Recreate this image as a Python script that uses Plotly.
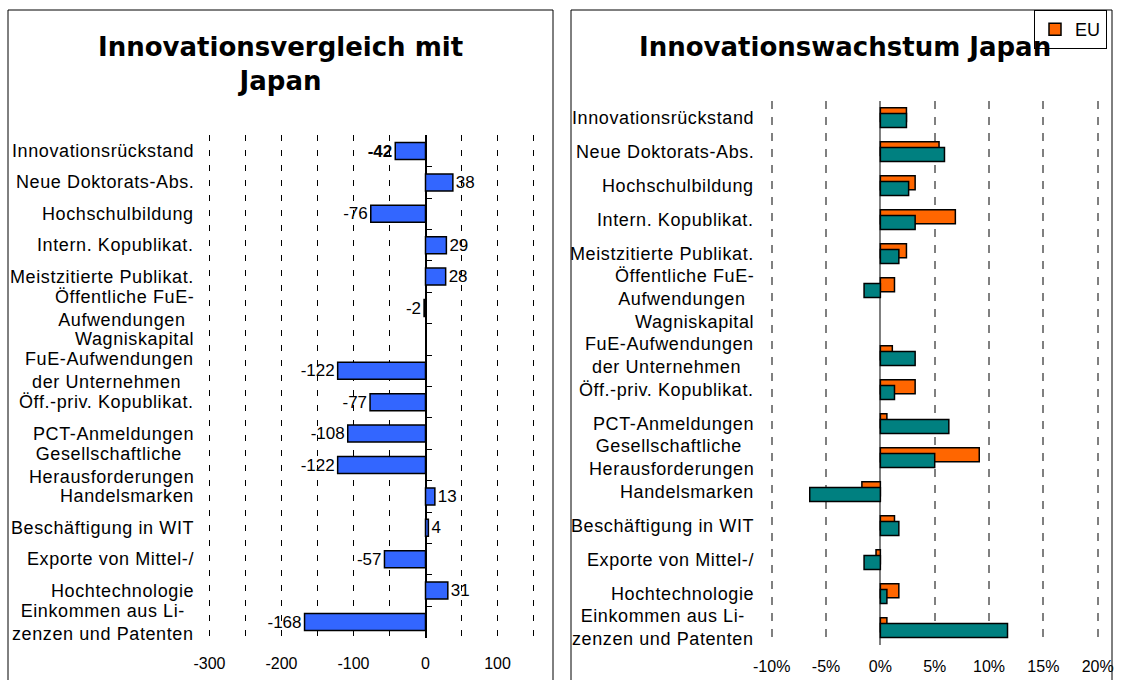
import plotly.graph_objects as go

# ---------------- data ----------------
categories = [
    "Innovationsrückstand", "Neue Doktorats-Abs.", "Hochschulbildung",
    "Intern. Kopublikat.", "Meistzitierte Publikat.", "Öffentliche FuE-Aufwendungen",
    "Wagniskapital", "FuE-Aufwendungen der Unternehmen", "Öff.-priv. Kopublikat.",
    "PCT-Anmeldungen", "Gesellschaftliche Herausforderungen", "Handelsmarken",
    "Beschäftigung in WIT", "Exporte von Mittel-/", "Hochtechnologie",
    "Einkommen aus Lizenzen und Patenten",
]
category_labels = [
    "Innovationsrückstand", "Neue Doktorats-Abs.", "Hochschulbildung",
    "Intern. Kopublikat.", "Meistzitierte Publikat.", "Öffentliche FuE-<br>Aufwendungen ",
    "Wagniskapital", "FuE-Aufwendungen<br>der Unternehmen ", "Öff.-priv. Kopublikat.",
    "PCT-Anmeldungen", "Gesellschaftliche <br>Herausforderungen", "Handelsmarken",
    "Beschäftigung in WIT", "Exporte von Mittel-/", "Hochtechnologie",
    "Einkommen aus Li-<br>zenzen und Patenten",
]
vergleich_japan = [-42, 38, -76, 29, 28, -2, None, -122, -77, -108, -122, 13, 4, -57, 31, -168]
wachstum_eu = [2.4, 5.4, 3.2, 6.9, 2.4, 1.3, None, 1.1, 3.2, 0.6, 9.1, -1.7, 1.3, -0.4, 1.7, 0.6]
wachstum_japan = [2.4, 5.9, 2.6, 3.2, 1.7, -1.5, None, 3.2, 1.3, 6.3, 5.0, -6.5, 1.7, -1.5, 0.6, 11.7]
left_tickvals = [-300, -200, -100, 0, 100]
left_ticktext = ["-300", "-200", "-100", "0", "100"]
right_tickvals = [-10, -5, 0, 5, 10, 15, 20]
right_ticktext = ["-10%", "-5%", "0%", "5%", "10%", "15%", "20%"]
left_title = "Innovationsvergleich mit<br>Japan"
right_title = "Innovationswachstum Japan"

# ---------------- layout geometry (pixels) ----------------
W, H = 1123, 680
FONT = "Liberation Sans, Arial, sans-serif"
TFONT = "DejaVu Sans, Verdana, sans-serif"

def px(x):
    return x / W

def py(y):
    return 1 - y / H

n = len(categories)
rng = [n - 0.5, -0.5]

left_text = []
for i, v in enumerate(vergleich_japan):
    if v is None:
        left_text.append("")
    elif i == 0:
        left_text.append("<b>%d</b>" % v)
    else:
        left_text.append("%d" % v)

fig = go.Figure()

fig.add_trace(go.Bar(
    x=vergleich_japan, y=categories, orientation="h", xaxis="x", yaxis="y",
    width=0.54, marker=dict(color="#3366FF", line=dict(color="black", width=1.5)),
    text=left_text, textposition="outside", cliponaxis=False, constraintext="none",
    textfont=dict(family=FONT, size=17, color="black"),
    showlegend=False, hoverinfo="x+y",
))
fig.add_trace(go.Bar(
    x=wachstum_eu, y=categories, orientation="h", xaxis="x2", yaxis="y2",
    width=0.41, offset=-0.295, name="EU",
    marker=dict(color="#FF6600", line=dict(color="black", width=1.5)),
))
fig.add_trace(go.Bar(
    x=wachstum_japan, y=categories, orientation="h", xaxis="x2", yaxis="y2",
    width=0.41, offset=-0.124, name="Japan", showlegend=False,
    marker=dict(color="#008080", line=dict(color="black", width=1.5)),
))
# invisible helper trace so the tick-axis at zero is drawn
fig.add_trace(go.Scatter(x=[None], y=[None], xaxis="x", yaxis="y3",
                         showlegend=False, hoverinfo="skip"))

# plot areas in pixels (edge gridlines at -300/150 and -10%/20%)
lx0, lx1 = 209.5, 533.5
ly0, ly1 = 135.3, 637.7
rx0, rx1 = 771.7, 1097.7
ry0, ry1 = 100.7, 644.8
PAD = 3  # extra pixels so edge gridlines are not clipped

l_scale = (lx1 - lx0) / 450.0
r_scale = (rx1 - rx0) / 30.0
l_range = [-300 - PAD / l_scale, 150 + PAD / l_scale]
r_range = [-10 - PAD / r_scale, 20 + PAD / r_scale]

zero_pos = px(lx0 + (lx1 - lx0) * (300 / 450))

fig.update_layout(
    width=W, height=H, margin=dict(l=0, r=0, t=0, b=0, autoexpand=False),
    paper_bgcolor="white", plot_bgcolor="white",
    barmode="overlay",
    font=dict(family=FONT, size=16, color="black"),
    xaxis=dict(
        domain=[px(lx0 - PAD), px(lx1 + PAD)], anchor="y", range=l_range,
        tickmode="array", tickvals=left_tickvals, ticktext=left_ticktext,
        ticks="", showline=False,
        showgrid=True, gridcolor="black", gridwidth=1, griddash="6px,9px",
        minor=dict(tickmode="linear", dtick=50, tick0=-300, showgrid=True,
                   gridcolor="black", gridwidth=1, griddash="6px,9px"),
        zeroline=True, zerolinecolor="black", zerolinewidth=1.5,
        tickfont=dict(family=FONT, size=16), ticklabelstandoff=14,
        fixedrange=True,
    ),
    yaxis=dict(
        domain=[py(ly1), py(ly0)], anchor="x", type="category",
        categoryorder="array", categoryarray=categories, range=rng,
        showticklabels=False, showgrid=False, zeroline=False, showline=False,
        ticks="", fixedrange=True,
    ),
    yaxis3=dict(
        overlaying="y", anchor="free", position=zero_pos, range=rng,
        tickmode="array", tickvals=[i - 0.5 for i in range(n + 1)],
        ticks="inside", ticklen=5, tickcolor="black", tickwidth=1,
        showticklabels=False, showgrid=False, zeroline=False, showline=False,
        fixedrange=True,
    ),
    xaxis2=dict(
        domain=[px(rx0 - PAD), px(rx1 + PAD)], anchor="y2", range=r_range,
        tickmode="array", tickvals=right_tickvals, ticktext=right_ticktext,
        ticks="", showline=False,
        showgrid=True, gridcolor="#808080", gridwidth=1.5, griddash="8px,8px",
        zeroline=True, zerolinecolor="#808080", zerolinewidth=2,
        tickfont=dict(family=FONT, size=16), ticklabelstandoff=10,
        fixedrange=True,
    ),
    yaxis2=dict(
        domain=[py(ry1), py(ry0)], anchor="x2", type="category",
        categoryorder="array", categoryarray=categories, range=rng,
        showticklabels=False, showgrid=False, zeroline=False, showline=False,
        ticks="", fixedrange=True,
    ),
    legend=dict(
        x=px(1107), y=py(10), xanchor="right", yanchor="top",
        bgcolor="white", bordercolor="black", borderwidth=1,
        font=dict(family=FONT, size=18), itemwidth=30,
    ),
)

annotations = []
for cat, lab in zip(categories, category_labels):
    txt = "<span style='letter-spacing:0.6px'>%s</span>" % lab.replace(
        "<br>", "</span><br><span style='letter-spacing:0.6px'>")
    annotations.append(dict(
        x=px(196), xref="paper", y=cat, yref="y", text=txt, showarrow=False,
        xanchor="right", yanchor="middle", align="center",
        font=dict(family=FONT, size=18, color="black"),
    ))
    annotations.append(dict(
        x=px(756), xref="paper", y=cat, yref="y2", text=txt, showarrow=False,
        xanchor="right", yanchor="middle", align="center",
        font=dict(family=FONT, size=18, color="black"),
    ))
annotations.append(dict(
    x=px(280), xref="paper", y=py(63.5), yref="paper", text="<b>%s</b>" % left_title,
    showarrow=False, xanchor="center", yanchor="middle", align="center",
    font=dict(family=TFONT, size=26, color="black"),
))
annotations.append(dict(
    x=px(845), xref="paper", y=py(47), yref="paper", text="<b>%s</b>" % right_title,
    showarrow=False, xanchor="center", yanchor="middle", align="center",
    font=dict(family=TFONT, size=26, color="black"),
))
fig.update_layout(annotations=annotations)

fig.update_layout(shapes=[
    dict(type="rect", xref="paper", yref="paper", x0=px(8), x1=px(553),
         y0=-0.2, y1=py(10), line=dict(color="black", width=1), layer="below"),
    dict(type="rect", xref="paper", yref="paper", x0=px(571), x1=px(1112),
         y0=-0.2, y1=py(10), line=dict(color="black", width=1), layer="below"),
])

fig.write_html("out.html", config={"displayModeBar": False},
               post_script="document.body.style.margin='0';document.body.style.overflow='hidden';")
